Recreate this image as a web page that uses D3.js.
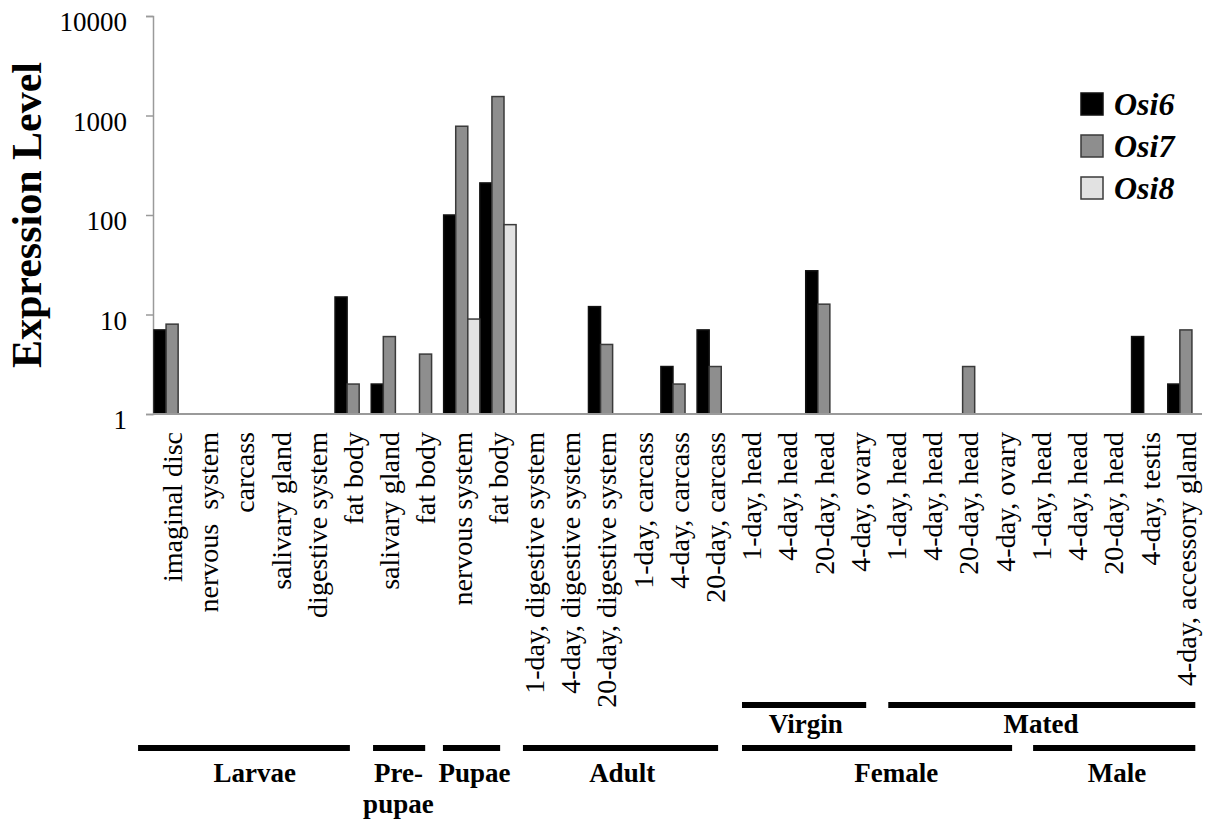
<!DOCTYPE html>
<html>
<head>
<meta charset="utf-8">
<script src="https://cdn.jsdelivr.net/npm/d3@7"></script>
<style>
  body { margin: 0; background: #fff; }
  text { font-family: "Liberation Serif", "Times New Roman", serif; fill: #000; }
</style>
</head>
<body>
<div id="chart"></div>
<script>
"use strict";

// tissue labels along the x axis
const categories = [
    "imaginal disc", "nervous  system", "carcass", "salivary gland", "digestive system", "fat body",
    "salivary gland", "fat body",
    "nervous system", "fat body",
    "1-day, digestive system", "4-day, digestive system", "20-day, digestive system",
    "1-day, carcass", "4-day, carcass", "20-day, carcass",
    "1-day, head", "4-day, head", "20-day, head", "4-day, ovary",
    "1-day, head", "4-day, head", "20-day, head", "4-day, ovary",
    "1-day, head", "4-day, head", "20-day, head", "4-day, testis", "4-day, accessory gland"
];

const seriesNames = ["Osi6", "Osi7", "Osi8"];

// expression levels (null = not detected)
const osi6 = [7, null, null, null, null, 15, 2, null, 100, 210, null, null, 12, null, 3, 7,
              null, null, 27.5, null, null, null, null, null, null, null, null, 6, 2];
const osi7 = [8, null, null, null, null, 2, 6, 4, 780, 1550, null, null, 5, null, 2, 3,
              null, null, 12.7, null, null, null, 3, null, null, null, null, null, 7];
const osi8 = [null, null, null, null, null, null, null, null, 9, 80, null, null, null, null, null, null,
              null, null, null, null, null, null, null, null, null, null, null, null, null];

const yTicks = [1, 10, 100, 1000, 10000];

// stage groups: [label, from, to, label position] in category units, row 0 = top row
const groupNames = ["Virgin", "Mated", "Larvae", "Pre-|pupae", "Pupae", "Adult", "Female", "Male"];
const groupFrom  = [16.24, 20.28, -0.44, 6.05, 7.98, 10.19, 16.24, 24.28];
const groupTo    = [19.67, 28.76, 5.41, 7.49, 9.56, 15.58, 23.70, 28.76];
const groupMid   = [18.0, 24.5, 2.78, 6.75, 8.85, 12.93, 20.5, 26.6];
const groupRow   = [0, 0, 1, 1, 1, 1, 1, 1];

const colors = ["#000000", "#8e8e8e", "#e2e2e2"];
const strokes = ["#111", "#3a3a3a", "#3a3a3a"];


const width = 1211;
const height = 823;
const margin = ({top: 16, right: 7, bottom: 409, left: 154});

const svg = d3.select("#chart").append("svg")
    .attr("width", width)
    .attr("height", height);

svg.append("rect").attr("width", width).attr("height", height).attr("fill", "#fff");

const x = d3.scaleBand()
    .domain(d3.range(categories.length))
    .range([margin.left, width - margin.right])
    .padding(0);

const xs = d3.scaleBand()
    .domain(seriesNames)
    .range([0, x.bandwidth()]);

// fractional category position -> pixel
const xu = d3.scaleLinear()
    .domain([0, categories.length])
    .range([margin.left, width - margin.right]);

const y = d3.scaleLog()
    .domain([1, 10000])
    .range([height - margin.bottom, margin.top]);

// y axis
const yAxis = g => g
    .attr("transform", `translate(${margin.left - 1},0)`)
    .call(d3.axisLeft(y).tickValues(yTicks).tickFormat(d3.format("d")).tickSize(7).tickPadding(19))
    .call(g => g.select(".domain").attr("stroke", "#9a9a9a").attr("stroke-width", 1.5))
    .call(g => g.selectAll(".tick line").attr("stroke", "#9a9a9a").attr("stroke-width", 1.5))
    .call(g => g.selectAll(".tick text")
        .attr("font-family", "Liberation Serif")
        .attr("font-size", 27)
        .attr("dy", "0.55em"));

svg.append("g").call(yAxis);

// bars
const data = [osi6, osi7, osi8];
const bars = [];
data.forEach((s, k) => s.forEach((v, i) => { if (v !== null) bars.push({i: i, k: k, v: v}); }));

svg.append("g")
  .selectAll("rect")
  .data(bars)
  .join("rect")
    .attr("x", d => x(d.i) + xs(seriesNames[d.k]))
    .attr("y", d => y(d.v))
    .attr("width", xs.bandwidth())
    .attr("height", d => y(1) - y(d.v))
    .attr("fill", d => colors[d.k])
    .attr("stroke", d => strokes[d.k])
    .attr("stroke-width", 1.5);

// x axis baseline
svg.append("line")
    .attr("x1", margin.left - 1)
    .attr("x2", width - margin.right - 2)
    .attr("y1", y(1))
    .attr("y2", y(1))
    .attr("stroke", "#9a9a9a")
    .attr("stroke-width", 2);

// category labels
svg.append("g")
  .selectAll("text")
  .data(categories)
  .join("text")
    .attr("transform", (d, i) => `translate(${x(i) + x.bandwidth() / 2},${y(1) + 18}) rotate(-90)`)
    .attr("text-anchor", "end")
    .attr("dy", "0.35em")
    .attr("font-size", 28)
    .style("white-space", "pre")
    .text(d => d);

// y title
svg.append("text")
    .attr("transform", `translate(41,${(y(1) + y(10000)) / 2}) rotate(-90)`)
    .attr("text-anchor", "middle")
    .attr("font-size", 42)
    .attr("font-weight", "bold")
    .text("Expression Level");

// stage group lines and labels
const rowLine = [705, 748];
const rowText = [733, 782];

const groups = svg.append("g");

groupNames.forEach((name, j) => {
    groups.append("line")
        .attr("x1", xu(groupFrom[j]))
        .attr("x2", xu(groupTo[j]))
        .attr("y1", rowLine[groupRow[j]])
        .attr("y2", rowLine[groupRow[j]])
        .attr("stroke", "#000")
        .attr("stroke-width", 6);

    name.split("|").forEach((part, n) => {
        groups.append("text")
            .attr("x", xu(groupMid[j]))
            .attr("y", rowText[groupRow[j]] + n * 31)
            .attr("text-anchor", "middle")
            .attr("font-size", 27)
            .attr("font-weight", "bold")
            .text(part);
    });
});

// legend
const legend = svg.append("g")
    .attr("transform", "translate(1081,93)");

const item = legend.selectAll("g")
    .data(seriesNames)
    .join("g")
    .attr("transform", (d, i) => `translate(0,${i * 42})`);

item.append("rect")
    .attr("width", 22)
    .attr("height", 22)
    .attr("fill", (d, i) => colors[i])
    .attr("stroke", (d, i) => strokes[i])
    .attr("stroke-width", 1.5);

item.append("text")
    .attr("x", 33)
    .attr("y", 22)
    .attr("font-size", 32)
    .attr("font-weight", "bold")
    .attr("font-style", "italic")
    .text(d => d);

</script>
</body>
</html>
